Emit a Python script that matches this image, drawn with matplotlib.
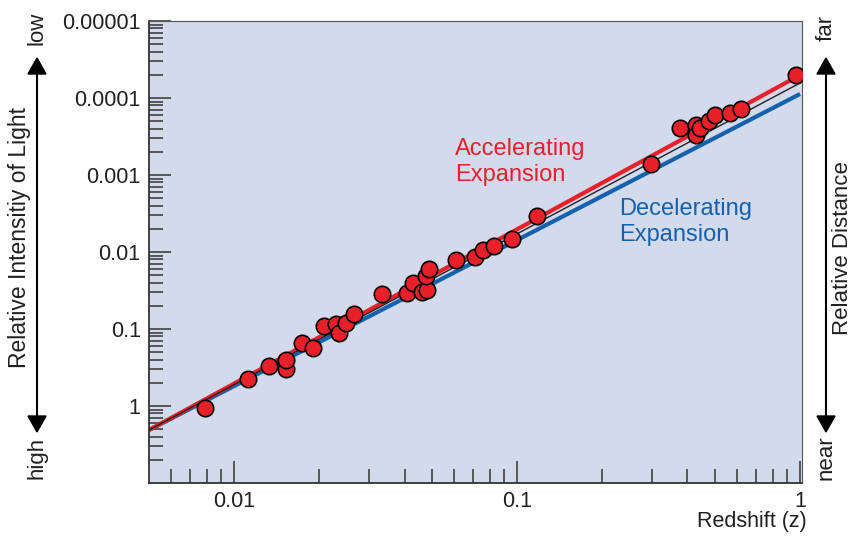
import numpy as np
import matplotlib
matplotlib.use('Agg')
import matplotlib.pyplot as plt
from matplotlib.ticker import FixedLocator, NullFormatter
from matplotlib.patches import Polygon
from matplotlib.lines import Line2D

plt.rcParams['font.family'] = ['Liberation Sans', 'DejaVu Sans']

# Supernova observations: redshift vs. relative intensity of light
z_obs = [0.0079, 0.0112, 0.0133, 0.0153, 0.0153, 0.0173, 0.0190, 0.0208,
         0.0229, 0.0235, 0.0249, 0.0266, 0.0333, 0.0409, 0.0429, 0.0462,
         0.0481, 0.0477, 0.0489, 0.0609, 0.0711, 0.0759, 0.0830, 0.0960,
         0.1177, 0.2975, 0.3767, 0.4291, 0.4291, 0.4433, 0.4768, 0.5007,
         0.5657, 0.6186, 0.968]
intensity_obs = [1.06, 0.446, 0.302, 0.331, 0.253, 0.152, 0.177, 0.0914,
                 0.0861, 0.113, 0.0836, 0.0638, 0.0351, 0.0341, 0.0253, 0.0331,
                 0.0312, 0.0205, 0.0166, 0.0127, 0.0116, 0.00942, 0.00836, 0.00678,
                 0.00341, 0.00072, 0.000245, 0.000224, 0.000303, 0.000245, 0.000199, 0.000166,
                 0.000157, 0.000139, 0.0000503]

# Model curves (straight in log-log over this range)
z_model = [0.005, 1.0]
accelerating = [2.05, 5.03e-5]
coasting = [2.05, 6.38e-5]
decelerating = [2.05, 8.87e-5]

y_major = [1e-5, 1e-4, 1e-3, 1e-2, 1e-1, 1]
y_labels = ['0.00001', '0.0001', '0.001', '0.01', '0.1', '1']
x_major = [0.01, 0.1, 1]
x_labels = ['0.01', '0.1', '1']

RED = '#e8202a'
BLUE = '#1461ae'
INK = '#231f20'

W, H = 854, 537
fig = plt.figure(figsize=(W / 100, H / 100), dpi=100)
ax = fig.add_axes([149 / W, 1 - 483 / H, (802 - 149) / W, (483 - 21) / H])
ax.set_facecolor('#d3daec')

ax.set_xscale('log')
ax.set_yscale('log')
ax.set_xlim(0.005, 1.016)
ax.set_ylim(10, 1e-5)

ax.plot(z_model, decelerating, color=BLUE, lw=3.0, solid_capstyle='butt', zorder=2)
ax.plot(z_model, accelerating, color=RED, lw=3.0, solid_capstyle='butt', zorder=2)
ax.plot(z_model, coasting, color='#222222', lw=1.0, zorder=3)
ax.plot(z_obs, intensity_obs, 'o', ms=11.8, mfc=RED, mec='black', mew=1.2, zorder=4)

# Ticks: inward, majors longer
ax.xaxis.set_major_locator(FixedLocator(x_major))
ax.set_xticklabels(x_labels)
x_minor = [m * 10.0 ** d for d in (-3, -2, -1) for m in range(2, 10)]
ax.xaxis.set_minor_locator(FixedLocator([v for v in x_minor if 0.005 < v < 1]))
ax.xaxis.set_minor_formatter(NullFormatter())

ax.yaxis.set_major_locator(FixedLocator(y_major))
ax.set_yticklabels(y_labels)
y_minor = [10.0 ** (d + 1) / k for d in range(-5, 1) for k in range(2, 10)]
ax.yaxis.set_minor_locator(FixedLocator(y_minor))
ax.yaxis.set_minor_formatter(NullFormatter())

ax.tick_params(which='both', direction='in', color='#333333', width=1.1,
               labelsize=15.5, labelcolor=INK, top=False, right=False)
ax.tick_params(which='major', length=16, pad=6)
ax.tick_params(which='minor', length=10)
for side in ['left', 'bottom']:
    ax.spines[side].set_color('#333333')
    ax.spines[side].set_linewidth(1.3)
for side in ['top', 'right']:
    ax.spines[side].set_color('#555555')
    ax.spines[side].set_linewidth(0.8)


def px(x, y):
    return (x / W, 1 - y / H)


# Curve labels
for text, x, y, c in [('Accelerating', 455, 155, RED), ('Expansion', 455, 181, RED),
                      ('Decelerating', 619, 215, BLUE), ('Expansion', 619, 241, BLUE)]:
    fig.text(*px(x, y), text, color=c, fontsize=17, ha='left', va='baseline')

fig.text(*px(807, 522), 'Redshift (z)', fontsize=15.5, color=INK, ha='right', va='center')


# Side arrows with end labels
def double_arrow(x, top, bottom):
    fig.add_artist(Line2D([x / W, x / W], [1 - (top + 14) / H, 1 - (bottom - 14) / H],
                          color='black', lw=1.5, transform=fig.transFigure))
    for tip, base in [(top, top + 16), (bottom, bottom - 16)]:
        fig.add_artist(Polygon([px(x, tip), px(x - 9, base), px(x + 9, base)],
                               closed=True, color='black', transform=fig.transFigure))


double_arrow(37, 58, 432)
double_arrow(826, 58, 432)

fig.text(*px(37, 28), 'low', rotation=90, fontsize=16, color=INK, ha='center', va='center')
fig.text(*px(37, 458), 'high', rotation=90, fontsize=16, color=INK, ha='center', va='center')
fig.text(*px(20, 238), 'Relative Intensitiy of Light', rotation=90, fontsize=16.5,
         color=INK, ha='center', va='center')
fig.text(*px(826, 28), 'far', rotation=90, fontsize=16, color=INK, ha='center', va='center')
fig.text(*px(826, 458), 'near', rotation=90, fontsize=16, color=INK, ha='center', va='center')
fig.text(*px(843, 248), 'Relative Distance', rotation=90, fontsize=16,
         color=INK, ha='center', va='center')

fig.savefig('out.png', dpi=100)
